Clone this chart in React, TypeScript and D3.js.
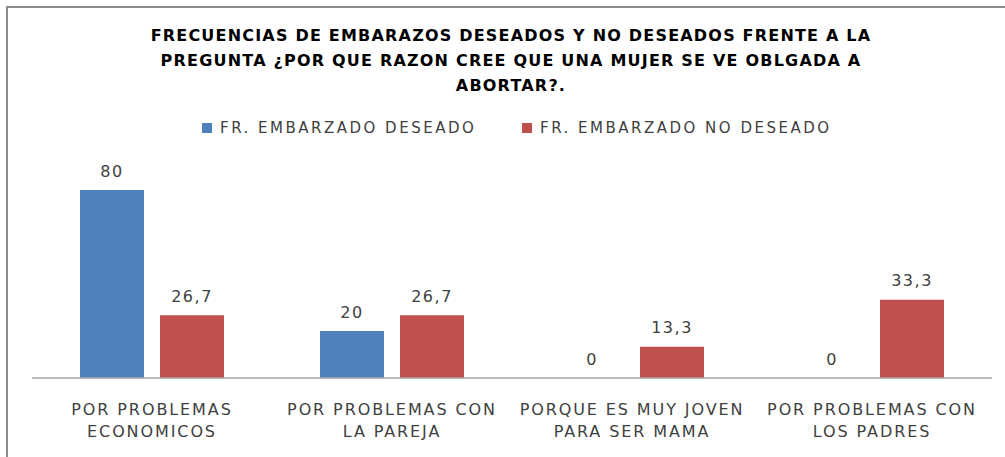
import React from "react";
import * as d3 from "d3";

const categories = [
  ["POR PROBLEMAS", "ECONOMICOS"],
  ["POR PROBLEMAS CON", "LA PAREJA"],
  ["PORQUE ES MUY JOVEN", "PARA SER MAMA"],
  ["POR PROBLEMAS CON", "LOS PADRES"],
];
const seriesNames = ["FR. EMBARZADO DESEADO", "FR. EMBARZADO NO DESEADO"];
const deseado = [80, 20, 0, 0];
const noDeseado = [26.7, 26.7, 13.3, 33.3];
const titleLines = [
  "FRECUENCIAS DE EMBARAZOS DESEADOS Y NO DESEADOS FRENTE A LA",
  "PREGUNTA ¿POR QUE RAZON CREE QUE UNA MUJER SE VE OBLGADA A",
  "ABORTAR?.",
];

const colors = ["#4F81BD", "#C0504D"];
const W = 1005;
const H = 457;
const baseY = 378;
const font = "'DejaVu Sans', sans-serif";

const App = () => {
  const idx = categories.map((_, i) => String(i));
  const x0 = d3.scaleBand().domain(idx).range([32, 992]);
  const x1 = d3.scaleBand().domain(["0", "1"]).range([48, 192]).paddingInner(0.2);
  const y = d3.scaleLinear().domain([0, 90]).range([baseY, baseY - 90 * 2.35]);
  const fmt = (v: number) => String(v).replace(".", ",");
  const series = [deseado, noDeseado];

  return (
    <svg width={W} height={H} style={{ position: "absolute", left: 0, top: 0, background: "#fff" }}>
      <rect x={7} y={7} width={W + 10} height={H + 10} fill="#fff" stroke="#8c8c8c" strokeWidth={2} />
      <g fontFamily={font} fontWeight="bold" fontSize={16} fill="#000" textAnchor="middle">
        {titleLines.map((t, i) => (
          <text key={i} x={511} y={41 + i * 25} letterSpacing={1.2}>
            {t}
          </text>
        ))}
      </g>
      <g fontFamily={font} fontSize={15} fill="#404040">
        {seriesNames.map((s, i) => {
          const lx = i === 0 ? 202 : 522;
          return (
            <g key={s}>
              <rect x={lx} y={123} width={10} height={10} fill={colors[i]} />
              <text x={lx + 18} y={133} letterSpacing={2.5}>
                {s}
              </text>
            </g>
          );
        })}
      </g>
      {series.map((vals, si) =>
        vals.map((v, ci) => {
          const bx = x0(String(ci))! + x1(String(si))!;
          return (
            <g key={`${si}-${ci}`}>
              {v > 0 && (
                <rect x={bx} y={y(v)} width={x1.bandwidth()} height={baseY - y(v)} fill={colors[si]} />
              )}
              <text
                x={bx + x1.bandwidth() / 2}
                y={y(v) - 13.5}
                textAnchor="middle"
                fontFamily={font}
                fontSize={16}
                fill="#404040"
                letterSpacing={1.5}
              >
                {fmt(v)}
              </text>
            </g>
          );
        })
      )}
      <line x1={32} x2={992} y1={baseY} y2={baseY} stroke="#a6a6a6" strokeWidth={1.5} />
      <g fontFamily={font} fontSize={16} fill="#404040" textAnchor="middle">
        {categories.map((lines, ci) => (
          <text key={ci} x={x0(String(ci))! + x0.bandwidth() / 2} y={415} letterSpacing={1.9}>
            {lines.map((l, li) => (
              <tspan key={li} x={x0(String(ci))! + x0.bandwidth() / 2} dy={li === 0 ? 0 : 22}>
                {l}
              </tspan>
            ))}
          </text>
        ))}
      </g>
    </svg>
  );
};

export default App;
